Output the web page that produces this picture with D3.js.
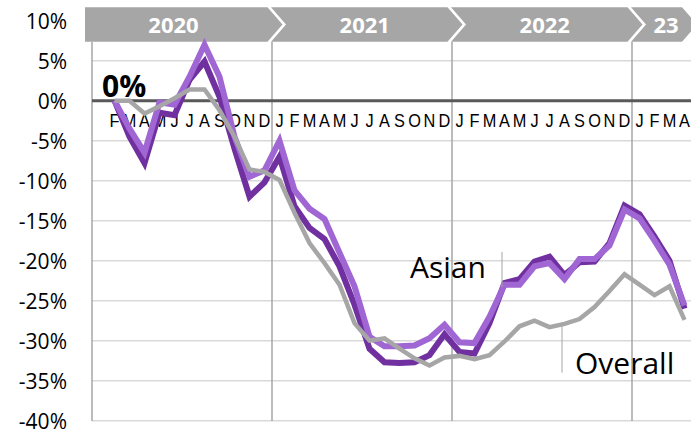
<!DOCTYPE html>
<html><head><meta charset="utf-8">
<script src="https://cdn.jsdelivr.net/npm/d3@7"></script>
<style>body{margin:0;background:#fff}svg{display:block}</style>
</head><body><svg id="c" width="691" height="430"></svg>
<script>
// ---- data ----
const months = ["J","F","M","A","M","J","J","A","S","O","N","D",
                "J","F","M","A","M","J","J","A","S","O","N","D",
                "J","F","M","A","M","J","J","A","S","O","N","D",
                "J","F","M","A"];
const monthLabels = ["","F","M","A","M","J","J","A","S","O","N","D",
                "J","F","M","A","M","J","J","A","S","O","N","D",
                "J","F","M","A","M","J","J","A","S","O","N","D",
                "J","F","M","A"];
const years = ["2020","2021","2022","23"];
const yearStart = [0,12,24,36];
const yearEnd = [11,23,35,39];
const yTicks = [10,5,0,-5,-10,-15,-20,-25,-30,-35,-40];
const asianDark = [null,0,-4.5,-7.8,-1.5,-1.8,2.6,4.9,0.5,-6,-12,-10.2,
  -7,-13.2,-15.9,-17.3,-20.7,-25.5,-31,-32.7,-32.8,-32.7,-31.8,-29.2,
  -31.4,-31.6,-27.8,-22.8,-22.3,-20.1,-19.5,-21.8,-20.2,-20.1,-17.8,-13.1,
  -14.2,-17,-20,-26];
const asianLight = [null,0,-3.5,-6.5,-0.2,-0.5,3,7,3,-4.5,-9.5,-8.7,
  -5,-11.2,-13.5,-14.8,-19,-23.2,-29.5,-30.7,-30.7,-30.6,-29.7,-28,
  -30.2,-30.3,-27,-23,-23,-20.7,-20.3,-22.3,-19.8,-19.8,-18.1,-13.6,
  -14.7,-17.5,-20.5,-25.6];
const overall = [null,0,0,-1.6,-0.7,0.3,1.4,1.4,-1.2,-4.5,-8.6,-8.9,
  -9.9,-14,-17.8,-20.3,-23,-27.8,-30,-29.7,-31,-32.2,-33.1,-32.1,
  -31.9,-32.3,-31.8,-30.1,-28.2,-27.5,-28.3,-27.9,-27.3,-25.8,-23.8,-21.7,
  -23,-24.3,-23.2,-27.4];
const labels = [{text:"Asian", idx:27, top:-18.9, bottom:-23.3},
                {text:"Overall", idx:31, top:-27.7, bottom:-34}];

// ---- scales ----
const svg = d3.select("#c");
const idx = d3.range(months.length);
const x = d3.scaleBand().domain(idx).range([92, 692]).padding(0);
const xc = i => x(i) + x.bandwidth()/2;
const y = d3.scaleLinear().domain([-40, 10]).range([420.7, 20.7]);

// grid
svg.append("g").selectAll("line").data(yTicks.filter(v=>v!==0 && v!==10)).join("line")
  .attr("x1",92).attr("x2",691).attr("y1",d=>y(d)).attr("y2",d=>y(d))
  .attr("stroke","#d9d9d9").attr("stroke-width",1.5);

// vertical separators
svg.append("g").selectAll("line").data(yearStart.slice(1)).join("line")
  .attr("x1",d=>x(d)).attr("x2",d=>x(d)).attr("y1",42).attr("y2",421)
  .attr("stroke","#a6a6a6").attr("stroke-width",1.5);
svg.append("line").attr("x1",92).attr("x2",92).attr("y1",42).attr("y2",421)
  .attr("stroke","#a6a6a6").attr("stroke-width",1.5);

// zero line
svg.append("line").attr("x1",92).attr("x2",691).attr("y1",y(0)).attr("y2",y(0))
  .attr("stroke","#595959").attr("stroke-width",3);

// y tick labels
svg.append("g").selectAll("text").data(yTicks).join("text")
  .attr("x",67).attr("y",d=>y(d)+8).attr("text-anchor","end")
  .attr("font-family","Open Sans").attr("font-size",21).attr("fill","#000")
  .text(d=>d+"%");

// month labels
svg.append("g").selectAll("text").data(idx).join("text")
  .attr("transform",d=>`translate(${xc(d)},127) scale(0.86,1)`).attr("text-anchor","middle")
  .attr("font-family","Liberation Sans").attr("font-size",19).attr("fill","#000")
  .text(d=>monthLabels[d]);

// 0% label
svg.append("text").attr("x",102).attr("y",y(0)-4).attr("font-family","Open Sans")
  .attr("font-weight","bold").attr("font-size",30).text("0%");

// header chevrons
const hTop=7.3, hBot=41.7, hMid=(hTop+hBot)/2, dep=15;
const hdr = svg.append("g");
years.forEach((yr,i)=>{
  const L = i===0 ? 85 : x(yearStart[i]) - 1;
  const R = i===years.length-1 ? 682 : x(yearEnd[i]+1) - 4.5;
  const pts = i===0
    ? [[L,hTop],[R,hTop],[R+dep,hMid],[R,hBot],[L,hBot]]
    : [[L,hTop],[R,hTop],[R+dep,hMid],[R,hBot],[L,hBot],[L+dep,hMid]];
  hdr.append("polygon").attr("points",pts.map(p=>p.join(",")).join(" ")).attr("fill","#a6a6a6");
  const cx = i===0 ? (85+x(12))/2 - 5 : (L+dep + R + (i===years.length-1?8:0))/2 - 2;
  hdr.append("text").attr("x",cx).attr("y",33).attr("text-anchor","middle")
    .attr("font-family","Open Sans").attr("font-weight","bold").attr("font-size",22)
    .attr("fill","#fff").text(yr);
});

// lines
const line = d3.line().defined(d=>d[1]!=null).x(d=>xc(d[0])).y(d=>y(d[1]));
function draw(arr,color,w){
  svg.append("path").datum(arr.map((v,i)=>[i,v])).attr("d",line)
    .attr("fill","none").attr("stroke",color).attr("stroke-width",w)
    .attr("stroke-linejoin","miter");
}
draw(asianDark,"#7030a0",6);
draw(asianLight,"#a066d3",6);
draw(overall,"#a6a6a6",4.5);

// labels with leader lines
svg.append("line").attr("x1",xc(labels[0].idx)-2.5).attr("x2",xc(labels[0].idx)-2.5)
  .attr("y1",y(labels[0].top)).attr("y2",y(labels[0].bottom)).attr("stroke","#a6a6a6").attr("stroke-width",1);
svg.append("text").attr("x",410).attr("y",278).attr("font-family","Open Sans")
  .attr("font-size",30).text(labels[0].text);
svg.append("line").attr("x1",xc(labels[1].idx)-2.5).attr("x2",xc(labels[1].idx)-2.5)
  .attr("y1",y(labels[1].top)).attr("y2",y(labels[1].bottom)).attr("stroke","#a6a6a6").attr("stroke-width",1);
svg.append("text").attr("x",575).attr("y",374).attr("font-family","Open Sans")
  .attr("font-size",30).text(labels[1].text);
</script></body></html>
